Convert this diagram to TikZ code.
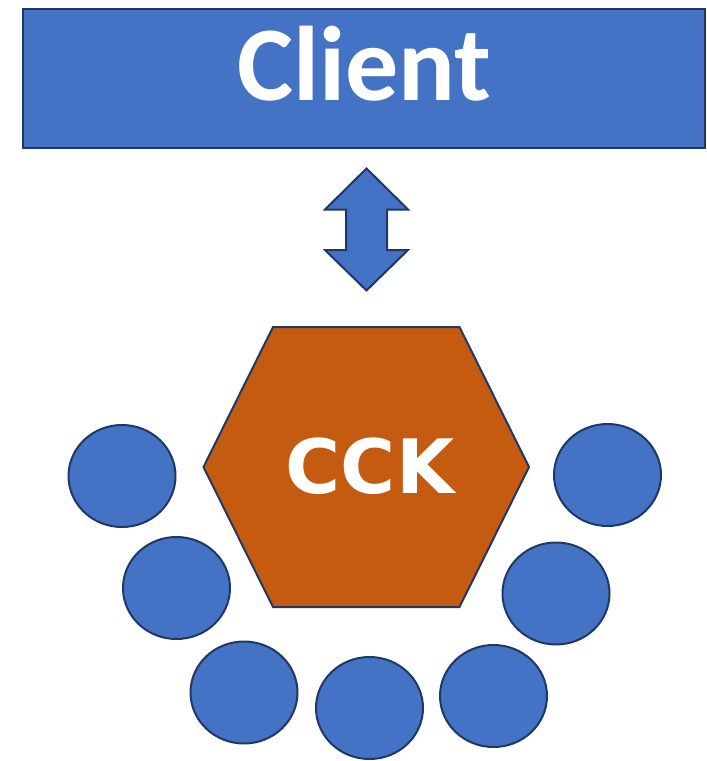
\documentclass[tikz,border=0pt]{standalone}
\usepackage{fontspec}
\setmainfont{Carlito}
\newfontfamily\cckfont{DejaVu Sans}
\usepackage{xcolor}
\definecolor{blockblue}{HTML}{4472C4}
\definecolor{rustorange}{HTML}{C55A11}
\definecolor{edgenavy}{HTML}{1F3864}
\usetikzlibrary{shapes.geometric,positioning}
\tikzset{font={\fontsize{12pt}{14}\selectfont}}

\begin{document}
\begin{tikzpicture}[x=1pt,y=-1pt,
outlined/.style={draw=edgenavy,line width=2pt,line join=miter},
bluebox/.style={outlined,fill=blockblue},
hexbox/.style={outlined,fill=rustorange},
member/.style={bluebox,ellipse,inner sep=0pt,minimum width=107pt,minimum height=102pt},
bigtext/.style={text=white,font={\fontsize{#1}{#1}\selectfont\bfseries}}
]
\useasboundingbox (0,0) rectangle (707,761);

\node[bluebox,minimum width=682pt,minimum height=139pt,inner sep=0pt] (client) at (363.5,78) {};
\node[bigtext=106pt,anchor=base] (clientlabel) at (364.5,100) {Client};

\draw[bluebox] (366.5,168.5) -- (408,209.5) -- (387,209.5) -- (387,250) -- (408,250)
  -- (366.5,290.5) -- (325,250) -- (346,250) -- (346,209.5) -- (325,209.5) -- cycle;

\draw[hexbox] (273,327) -- (459.5,327) -- (529,467) -- (459.5,607) -- (273,607) -- (203.5,467) -- cycle;
\node[bigtext=75pt,anchor=base,font=\cckfont\fontsize{75pt}{75pt}\selectfont\bfseries] (cck) at (370,493) {CCK};

\foreach \n/\x/\y in {1/122/476,2/176.5/588,3/244/692.5,4/369.5/708,5/493.5/696,6/556/593.5,7/607.5/475}
  \node[member] (m\n) at (\x,\y) {};

\end{tikzpicture}
\end{document}
